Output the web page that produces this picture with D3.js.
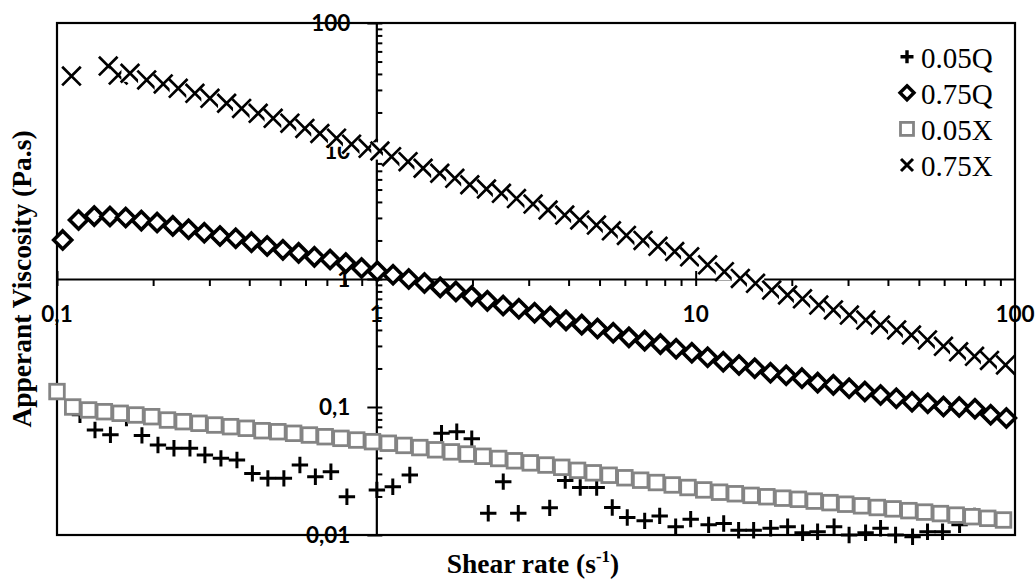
<!DOCTYPE html>
<html><head><meta charset="utf-8">
<script src="https://cdn.jsdelivr.net/npm/d3@7"></script>
<style>
html,body{margin:0;padding:0;background:#fff;}
svg{display:block;}
.serif{font-family:"Liberation Serif","Times New Roman",Times,serif;}
.serifb{font-family:"Liberation Serif","Times New Roman",Times,serif;font-weight:bold;}
.tick{font-family:Lato,"Open Sans",sans-serif;font-weight:bold;}
</style></head>
<body>
<svg id="chart" width="1035" height="580"></svg>
<script>
// ---------- data ----------
const seriesNames = ["0.05Q", "0.75Q", "0.05X", "0.75X"];

const xTickLabels = ["0,1", "1", "10", "100"];
const yTickLabels = ["0,01", "0,1", "1", "10", "100"];
const xTickValues = [0.1, 1, 10, 100];
const yTickValues = [0.01, 0.1, 1, 10, 100];

// 0.05Q (plus markers)
const shearQ005 = [0.118,0.1315,0.147,0.165,0.1845,0.2071,0.2324,0.2608,0.2905,0.3261,0.366,0.4091,0.4575,0.5134,0.5763,0.6443,0.7207,0.8088,
  1.004,1.126,1.273,1.600,1.786,1.990,2.241,2.497,2.783,3.491,3.904,4.350,4.898,5.480,6.106,6.924,7.715,8.657,9.647,
  10.98,12.24,13.63,15.19,17.17,19.41,21.62,24.09,27.13,30.23,34.05,37.93,42.27,47.78,53.22,59.31,67.05,74.68];
const viscQ005 = [0.087,0.0662,0.0606,0.082,0.060,0.0505,0.0476,0.0476,0.0422,0.0397,0.0385,0.0303,0.0277,0.0277,0.0352,0.0285,0.0312,0.0199,
  0.0225,0.0238,0.0294,0.0623,0.0641,0.0566,0.0148,0.0261,0.0148,0.0163,0.0266,0.0235,0.0235,0.0164,0.0137,0.0129,0.0141,0.0116,0.0133,
  0.0120,0.0123,0.0109,0.0109,0.0113,0.0116,0.0104,0.0106,0.0116,0.0100,0.0104,0.0113,0.0100,0.0097,0.0106,0.0106,0.0120,0.0141];

// 0.75Q (diamond markers)
const shearQ075 = [0.1042,0.1168,0.1308,0.1465,0.1641,0.1837,0.2058,0.2305,0.2582,0.2892,0.3239,0.3628,0.4064,0.4551,0.5098,0.571,0.6397,0.7164,0.8025,0.8989,
  1.007,1.128,1.263,1.415,1.585,1.775,1.988,2.227,2.495,2.794,3.130,3.506,3.926,4.398,4.926,5.518,6.180,6.923,7.755,8.686,9.727,
  10.90,12.20,13.67,15.31,17.15,19.21,21.52,24.10,26.99,30.24,33.87,37.93,42.49,47.59,53.31,59.70,66.88,74.91,83.91,93.97];
const viscQ075 = [2.02,2.89,3.10,3.08,3.02,2.86,2.76,2.60,2.45,2.30,2.17,2.08,1.94,1.81,1.69,1.60,1.49,1.42,1.33,1.22,
  1.15,1.08,1.00,0.93,0.86,0.80,0.735,0.675,0.62,0.585,0.545,0.51,0.475,0.44,0.41,0.38,0.35,0.33,0.31,0.285,0.265,
  0.245,0.226,0.213,0.201,0.185,0.177,0.168,0.155,0.149,0.140,0.132,0.124,0.117,0.110,0.107,0.101,0.100,0.097,0.087,0.082];

// 0.05X (grey square markers)
const shearX005 = [0.1,0.112,0.1256,0.1407,0.1577,0.1766,0.1979,0.2218,0.2485,0.2784,0.3119,0.3495,0.3916,0.4387,0.4916,0.5508,0.6171,0.6915,0.7748,0.8681,0.9727,
  1.090,1.221,1.368,1.533,1.718,1.925,2.157,2.416,2.707,3.034,3.399,3.808,4.267,4.781,5.358,6.003,6.726,7.536,8.444,9.462,
  10.60,11.88,13.31,14.91,16.71,18.73,20.98,23.51,26.34,29.51,33.07,37.05,41.52,46.52,52.12,58.40,65.44,73.32,82.15,92.04];
const viscX005 = [0.132,0.100,0.0948,0.0919,0.0893,0.0866,0.0840,0.0791,0.0768,0.0746,0.0723,0.0702,0.0682,0.0653,0.0641,0.0623,0.0604,0.0586,0.0569,0.0552,0.0536,
  0.0521,0.0501,0.0482,0.0463,0.0446,0.0429,0.0412,0.0396,0.0380,0.0366,0.0352,0.0338,0.0320,0.0306,0.0293,0.0280,0.0268,0.0257,0.0246,0.0235,
  0.0225,0.0216,0.0210,0.0204,0.0199,0.0194,0.0190,0.0184,0.0179,0.0174,0.0169,0.0164,0.0160,0.0155,0.0151,0.0147,0.0143,0.0139,0.0135,0.0131];

// 0.75X (x markers)
const shearX075 = [0.111,0.1447,0.1555,0.1693,0.1909,0.2151,0.2397,0.2703,0.3013,0.3398,0.3786,0.4266,0.4753,0.5362,0.5974,0.6655,0.7504,0.8364,0.9426,
  1.026,1.116,1.257,1.401,1.580,1.761,1.962,2.213,2.465,2.747,3.096,3.450,3.890,4.335,4.890,5.447,6.069,6.842,7.621,8.597,9.577,
  10.9,12.3,13.8,15.4,17.3,19.4,21.6,24.3,27.0,30.3,34.1,37.9,42.6,47.4,53.2,59.7,66.6,74.7,83.2,93.4];
const viscX075 = [38.5,46.1,39.2,40.5,35.9,33.4,30.9,28.2,25.8,23.6,21.5,19.7,18.0,16.5,15.0,13.7,12.6,11.3,10.5,
  10.0,9.03,8.25,7.33,6.70,6.12,5.45,5.05,4.67,4.25,3.85,3.46,3.16,2.89,2.64,2.38,2.19,2.00,1.80,1.64,1.49,
  1.29,1.14,1.01,0.925,0.82,0.75,0.70,0.626,0.573,0.523,0.478,0.437,0.400,0.365,0.334,0.298,0.270,0.249,0.231,0.213];

// ---------- chart ----------
const plot = {left: 57, right: 1015, top: 23, bottom: 535};
const svg = d3.select("#chart");

const x = d3.scaleLog().domain([0.1, 100]).range([plot.left, plot.right]);
const y = d3.scaleLog().domain([0.01, 100]).range([plot.bottom, plot.top]);

// plot frame
svg.append("rect").attr("x", plot.left).attr("y", plot.top)
  .attr("width", plot.right - plot.left).attr("height", plot.bottom - plot.top)
  .attr("fill", "none").attr("stroke", "#000").attr("stroke-width", 2.2);

const isMajor = v => Math.abs(Math.log10(v) - Math.round(Math.log10(v))) < 1e-9;

// x axis crossing at y = 1
const xAxisG = svg.append("g").attr("transform", `translate(0,${y(1)})`)
  .call(d3.axisBottom(x).tickValues(x.ticks().filter(v => v < 100)).tickSize(7).tickSizeOuter(0).tickFormat(""));
xAxisG.select(".domain").attr("stroke-width", 2.2);
xAxisG.selectAll(".tick line").attr("stroke-width", 2).each(function(d){
  if (isMajor(d)) d3.select(this).attr("y1", -8);
});

// y axis crossing at x = 1
const yAxisG = svg.append("g").attr("transform", `translate(${x(1)},0)`)
  .call(d3.axisRight(y).tickValues(y.ticks()).tickSize(6).tickSizeOuter(0).tickFormat(""));
yAxisG.select(".domain").attr("stroke-width", 2.2);
yAxisG.selectAll(".tick line").attr("stroke-width", 2).each(function(d){
  if (isMajor(d)) d3.select(this).attr("x1", -9);
});

// tick labels
svg.append("g").selectAll("text").data(xTickValues).join("text")
  .attr("class", "tick")
  .attr("x", d => x(d)).attr("y", y(1) + 43)
  .attr("text-anchor", "middle").attr("font-size", 22.5)
  .text((d, i) => xTickLabels[i]);

svg.append("g").selectAll("text").data(yTickValues).join("text")
  .attr("class", "tick")
  .attr("x", x(1) - 26).attr("y", d => y(d) + 8)
  .attr("text-anchor", "end").attr("font-size", 22.5)
  .text((d, i) => yTickLabels[i]);

// axis titles
svg.append("text").attr("class", "serifb")
  .attr("transform", `translate(31,${(plot.top + plot.bottom) / 2}) rotate(-90)`)
  .attr("text-anchor", "middle").attr("font-size", 27.5)
  .text("Apperant Viscosity (Pa.s)");

const xt = svg.append("text").attr("class", "serifb")
  .attr("x", (plot.left + plot.right) / 2 - 3).attr("y", 573)
  .attr("text-anchor", "middle").attr("font-size", 27.5);
xt.append("tspan").text("Shear rate (s");
xt.append("tspan").attr("font-size", 17).attr("dy", -11).text("-1");
xt.append("tspan").attr("dy", 11).text(")");

// ---------- markers ----------
function drawPlus(g, cx, cy, s, sw) {
  g.append("path").attr("d", `M${cx - s},${cy}H${cx + s}M${cx},${cy - s}V${cy + s}`)
    .attr("stroke", "#000").attr("stroke-width", sw).attr("fill", "none");
}
function drawDiamond(g, cx, cy, s, sw) {
  g.append("path").attr("d", `M${cx},${cy - s}L${cx + s},${cy}L${cx},${cy + s}L${cx - s},${cy}Z`)
    .attr("stroke", "#000").attr("stroke-width", sw).attr("fill", "#fff").attr("stroke-linejoin", "miter");
}
function drawSquare(g, cx, cy, s, sw) {
  g.append("rect").attr("x", cx - s).attr("y", cy - s).attr("width", 2 * s).attr("height", 2 * s)
    .attr("stroke", "#848484").attr("stroke-width", sw).attr("fill", "#fff");
}
function drawCross(g, cx, cy, s, sw, bg) {
  if (bg) g.append("rect").attr("x", cx - bg).attr("y", cy - bg).attr("width", 2 * bg).attr("height", 2 * bg).attr("fill", "#fff");
  g.append("path").attr("d", `M${cx - s},${cy - s}L${cx + s},${cy + s}M${cx - s},${cy + s}L${cx + s},${cy - s}`)
    .attr("stroke", "#000").attr("stroke-width", sw).attr("fill", "none");
}

const gPlus = svg.append("g");
shearQ005.forEach((v, i) => drawPlus(gPlus, x(v), y(viscQ005[i]), 8.2, 3));

const gDia = svg.append("g");
shearQ075.forEach((v, i) => drawDiamond(gDia, x(v), y(viscQ075[i]), 9, 3.6));

const gSq = svg.append("g");
shearX005.forEach((v, i) => drawSquare(gSq, x(v), y(viscX005[i]), 7.3, 2.8));

const gX = svg.append("g");
shearX075.forEach((v, i) => drawCross(gX, x(v), y(viscX075[i]), 9.3, 2.7, 8.6));

// ---------- legend ----------
const legend = svg.append("g");
const lx = 907, ly0 = 56.7, dy = 36.1;
seriesNames.forEach((name, i) => {
  const cy = ly0 + i * dy;
  if (i === 0) drawPlus(legend, lx, cy, 6.5, 3.4);
  if (i === 1) drawDiamond(legend, lx, cy, 7, 3.4);
  if (i === 2) drawSquare(legend, lx, cy, 6.5, 2.8);
  if (i === 3) drawCross(legend, lx, cy, 6, 3, 0);
  legend.append("text").attr("class", "serif").attr("x", lx + 14).attr("y", cy + 11)
    .attr("font-size", 29).text(name);
});
</script>
</body></html>
